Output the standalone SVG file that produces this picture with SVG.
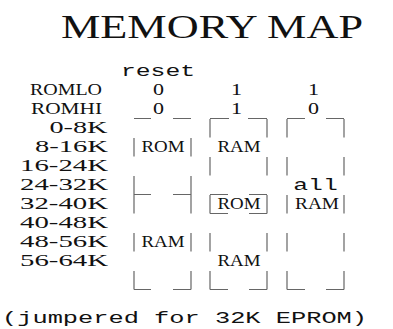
<svg xmlns="http://www.w3.org/2000/svg" width="393" height="329" viewBox="0 0 393 329">
<style>
text{font-family:"Liberation Serif","Times New Roman",serif;font-size:16px;fill:#111}
.m{font-family:"Liberation Mono","Courier New",monospace}
.t{font-size:34px}
.e{stroke:#666;stroke-width:1.2;fill:none}
</style>
<rect width="393" height="329" fill="#fff"/>
<g id="title"><text class="t" x="61" y="38" textLength="302" lengthAdjust="spacingAndGlyphs">MEMORY MAP</text></g>
<g id="labels">
<text class="m" x="121" y="76" textLength="74" lengthAdjust="spacingAndGlyphs">reset</text>
<text x="30" y="95" textLength="72" lengthAdjust="spacingAndGlyphs">ROMLO</text>
<text x="31" y="114" textLength="71" lengthAdjust="spacingAndGlyphs">ROMHI</text>
<text x="49.5" y="133" textLength="58" lengthAdjust="spacingAndGlyphs">0-8K</text>
<text x="35" y="152" textLength="73" lengthAdjust="spacingAndGlyphs">8-16K</text>
<text x="20" y="171" textLength="88" lengthAdjust="spacingAndGlyphs">16-24K</text>
<text x="20" y="190" textLength="88" lengthAdjust="spacingAndGlyphs">24-32K</text>
<text x="20" y="209" textLength="88" lengthAdjust="spacingAndGlyphs">32-40K</text>
<text x="20" y="228" textLength="88" lengthAdjust="spacingAndGlyphs">40-48K</text>
<text x="20" y="247" textLength="88" lengthAdjust="spacingAndGlyphs">48-56K</text>
<text x="20" y="266" textLength="88" lengthAdjust="spacingAndGlyphs">56-64K</text>
</g>
<g id="box1">
<text x="153" y="95" textLength="11" lengthAdjust="spacingAndGlyphs">0</text>
<text x="153" y="114" textLength="11" lengthAdjust="spacingAndGlyphs">0</text>
<path class="e" d="M134 118.5H151M173 118.5H191M134 138V156.5M191 138V156.5M134 176V213.5M191 176V213.5M134 194.5H151M173 194.5H191M134 233V251.5M191 233V251.5M134 271V289.5M191 271V289.5M134 289.5H151M173 289.5H191"/>
<text x="141.5" y="152" textLength="43" lengthAdjust="spacingAndGlyphs">ROM</text>
<text x="141.5" y="247" textLength="43" lengthAdjust="spacingAndGlyphs">RAM</text>
</g>
<g id="box2">
<text x="231" y="95" textLength="11" lengthAdjust="spacingAndGlyphs">1</text>
<text x="231" y="114" textLength="11" lengthAdjust="spacingAndGlyphs">1</text>
<path class="e" d="M210 118.5H229M248 118.5H267M210 119V137.5M267 119V137.5M210 157V175.5M267 157V175.5M210 194.5H228M249 194.5H267M210 195V213.5M267 195V213.5M210 213.5H228M249 213.5H267M210 233V251.5M267 233V251.5M210 271V289.5M267 271V289.5M210 289.5H228M249 289.5H267"/>
<text x="217.5" y="152" textLength="43" lengthAdjust="spacingAndGlyphs">RAM</text>
<text x="217.5" y="209" textLength="43" lengthAdjust="spacingAndGlyphs">ROM</text>
<text x="217.5" y="266" textLength="43" lengthAdjust="spacingAndGlyphs">RAM</text>
</g>
<g id="box3">
<text x="308" y="95" textLength="11" lengthAdjust="spacingAndGlyphs">1</text>
<text x="308" y="114" textLength="11" lengthAdjust="spacingAndGlyphs">0</text>
<path class="e" d="M287 118.5H305M326 118.5H344M287 119V137.5M344 119V137.5M287 157V175.5M344 157V175.5M287 195V213.5M344 195V213.5M287 233V251.5M344 233V251.5M287 271V289.5M344 271V289.5M287 289.5H305M326 289.5H344"/>
<text class="m" x="293.3" y="190" textLength="44.4" lengthAdjust="spacingAndGlyphs">all</text>
<text x="295" y="209" textLength="44" lengthAdjust="spacingAndGlyphs">RAM</text>
</g>
<g id="connectors"></g>
<g id="footer"><text class="m" x="2" y="323" textLength="365" lengthAdjust="spacingAndGlyphs">(jumpered for 32K EPROM)</text></g>
</svg>
